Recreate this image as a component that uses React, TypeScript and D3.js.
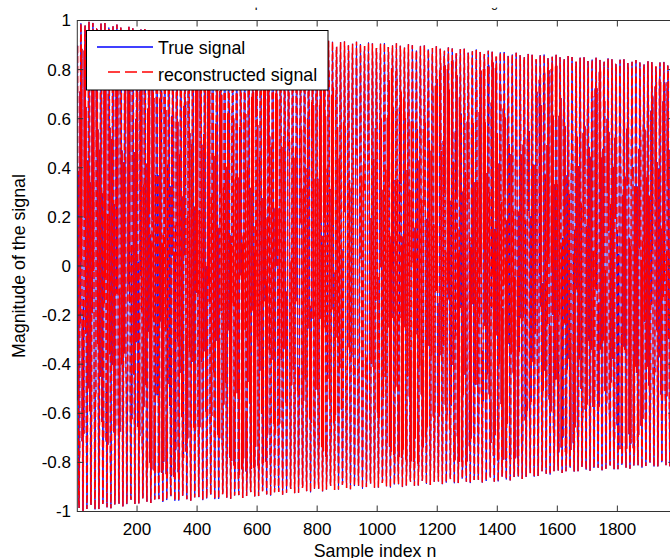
import React, { useMemo } from "react";
import * as d3 from "d3";

const WIDTH = 670;
const HEIGHT = 558;

// ---- data ----
const sampleCount = 1990;
const envelopeKnots = [0, 100, 200, 300, 400, 500, 600, 700, 800, 900, 1000, 1100, 1200, 1300, 1400, 1500, 1600, 1700, 1800, 1900, 2000];
const upperEnvelope = [1.0, 0.99, 0.97, 0.955, 0.945, 0.935, 0.93, 0.925, 0.92, 0.915, 0.91, 0.905, 0.895, 0.885, 0.875, 0.865, 0.86, 0.85, 0.845, 0.835, 0.83];
const lowerEnvelope = [-1.0, -0.99, -0.97, -0.96, -0.955, -0.95, -0.94, -0.93, -0.92, -0.91, -0.905, -0.9, -0.89, -0.885, -0.88, -0.865, -0.845, -0.835, -0.83, -0.82, -0.815];
const carrierPeriod = 13.3; // samples per oscillation (about 4 px)

// where the dense (overlapping) part of the trace reaches, as a share of the envelope
const lobeKnots = [0, 60, 110, 160, 230, 330, 420, 540, 630, 720, 830, 930, 960, 1050, 1140, 1210, 1260, 1300, 1343, 1390, 1470, 1543, 1600, 1643, 1743, 1800, 1860, 1930, 2000];
const denseTop = [0.9, 0.85, 0.8, 0.85, 0.9, 0.6, 0.9, 0.6, 0.9, 0.5, 0.9, 0.45, 0.3, 0.9, 0.55, 0.9, 0.95, 0.45, 0.9, 0.95, 0.38, 0.9, 0.95, 0.4, 0.95, 0.35, 0.5, 0.9, 0.9];
const denseBottom = [0.8, 0.5, 0.8, 0.4, 0.85, 0.9, 0.6, 0.9, 0.85, 0.5, 0.85, 0.25, 0.5, 0.85, 0.9, 0.5, 0.9, 0.9, 0.55, 0.9, 0.9, 0.35, 0.9, 0.9, 0.5, 0.9, 0.9, 0.5, 0.8];
const denseJitter = 0.7;

const xTicks = [200, 400, 600, 800, 1000, 1200, 1400, 1600, 1800];
const yTicks = [-1, -0.8, -0.6, -0.4, -0.2, 0, 0.2, 0.4, 0.6, 0.8, 1];
const legendLabels = ["True signal", "reconstructed signal"];
const seriesColors = ["#0000ff", "#ff0000"];
const titleText = "Comparison between true and reconstructed signal";
const xLabel = "Sample index n";
const yLabel = "Magnitude of the signal";

function buildSignal(): number[] {
  const up = d3.scaleLinear().domain(envelopeKnots).range(upperEnvelope);
  const lo = d3.scaleLinear().domain(envelopeKnots).range(lowerEnvelope);
  const bt = d3.scaleLinear().domain(lobeKnots).range(denseTop);
  const bb = d3.scaleLinear().domain(lobeKnots).range(denseBottom);
  const w = (2 * Math.PI) / carrierPeriod;
  const out: number[] = [];
  for (let n = 1; n <= sampleCount; n++) {
    const v = Math.cos(w * n);
    const b = v >= 0 ? bt(n) : bb(n);
    const t = Math.max(0, Math.min(1, (b - Math.abs(v)) / 0.2));
    let vv = v + denseJitter * t * (n % 2 === 0 ? 1 : -1);
    const lim = Math.max(b, Math.abs(v), 0.05);
    vv = Math.max(-lim, Math.min(lim, vv));
    vv = Math.max(-1, Math.min(1, vv));
    out.push(vv >= 0 ? vv * up(n) : -vv * lo(n));
  }
  return out;
}

export default function App() {
  const signal = useMemo(buildSignal, []);
  const margin = { left: 77.3, right: 674.4, top: 20.5, bottom: 511.5 };
  const x = d3.scaleLinear().domain([1, sampleCount]).range([margin.left, margin.right]);
  const y = d3.scaleLinear().domain([-1, 1]).range([margin.bottom, margin.top]);
  const line = d3
    .line<number>()
    .x((_, i) => x(i + 1))
    .y((d) => y(d));
  const path = line(signal) || "";
  const axisColor = "#333";
  const font = "'Liberation Sans', Arial, Helvetica, sans-serif";
  const tickLen = 6;

  return (
    <svg
      width={WIDTH}
      height={HEIGHT}
      style={{ position: "absolute", left: 0, top: 0, background: "#fff" }}
      fontFamily={font}
    >
      <defs>
        <clipPath id="plotClip">
          <rect x={margin.left} y={margin.top} width={margin.right - margin.left} height={margin.bottom - margin.top} />
        </clipPath>
      </defs>
      <rect x={0} y={0} width={WIDTH} height={HEIGHT} fill="#fff" />
      <text x={228} y={6.8} fontSize={12.7} fill="#000">
        {titleText}
      </text>
      {/* the reference is cropped so only the title's descenders show */}
      <rect x={0} y={0} width={WIDTH} height={7.6} fill="#fff" />

      <g clipPath="url(#plotClip)">
        <path d={path} fill="none" stroke={seriesColors[0]} strokeWidth={0.9} />
        <path d={path} fill="none" stroke={seriesColors[1]} strokeWidth={1.5} strokeDasharray="7,3" />
      </g>

      {/* axes box */}
      <rect
        x={margin.left}
        y={margin.top}
        width={margin.right - margin.left}
        height={margin.bottom - margin.top}
        fill="none"
        stroke={axisColor}
        strokeWidth={1}
      />
      {xTicks.map((t) => (
        <g key={"xt" + t}>
          <line x1={x(t)} x2={x(t)} y1={margin.bottom} y2={margin.bottom - tickLen} stroke={axisColor} />
          <line x1={x(t)} x2={x(t)} y1={margin.top} y2={margin.top + tickLen} stroke={axisColor} />
          <text x={x(t)} y={535} fontSize={17} textAnchor="middle" fill="#000">
            {t}
          </text>
        </g>
      ))}
      {yTicks.map((t) => (
        <g key={"yt" + t}>
          <line x1={margin.left} x2={margin.left + tickLen} y1={y(t)} y2={y(t)} stroke={axisColor} />
          <line x1={margin.right} x2={margin.right - tickLen} y1={y(t)} y2={y(t)} stroke={axisColor} />
          <text x={71} y={y(t)} dy="0.35em" fontSize={17} textAnchor="end" fill="#000">
            {t}
          </text>
        </g>
      ))}
      <text x={375} y={557} fontSize={17.8} textAnchor="middle" fill="#000">
        {xLabel}
      </text>
      <text
        transform={`translate(25,${(margin.top + margin.bottom) / 2}) rotate(-90)`}
        fontSize={17.8}
        textAnchor="middle"
        fill="#000"
      >
        {yLabel}
      </text>

      {/* legend */}
      <g>
        <rect x={86.5} y={30.5} width={241.5} height={59.5} fill="#fff" stroke="#000" strokeWidth={1} />
        <line x1={97} x2={153} y1={47} y2={47} stroke={seriesColors[0]} strokeWidth={1.5} />
        <text x={158} y={53.5} fontSize={17.8} fill="#000">
          {legendLabels[0]}
        </text>
        <line x1={108} x2={153} y1={72} y2={72} stroke={seriesColors[1]} strokeWidth={1.5} strokeDasharray="12,5" />
        <text x={158} y={80.5} fontSize={17.8} fill="#000">
          {legendLabels[1]}
        </text>
      </g>
    </svg>
  );
}
